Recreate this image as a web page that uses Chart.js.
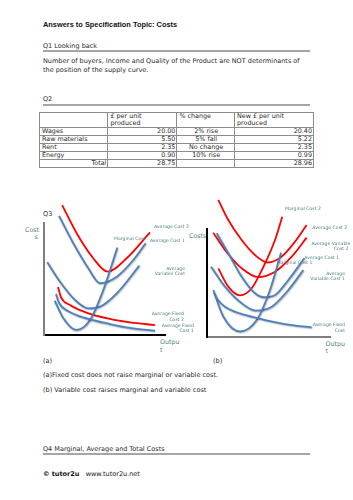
<!DOCTYPE html>
<html>
<head>
<meta charset="utf-8">
<script src="https://cdn.jsdelivr.net/npm/chart.js@4.4.1/dist/chart.umd.min.js"></script>
<style>
  html, body { margin:0; padding:0; background:#fff; }
  body { width:353px; height:500px; position:relative; overflow:hidden; font-family:"DejaVu Sans", sans-serif; color:#2b2b2b; }
  .t { position:absolute; white-space:nowrap; font-size:6.5px; line-height:7.5px; }
  .rule { position:absolute; left:43px; width:267px; height:1.5px; background:#a6a6a6; }
  .lab { position:absolute; white-space:nowrap; font-size:4.6px; line-height:5.4px; color:#4f7f84; }
  .ax { position:absolute; white-space:nowrap; font-size:6.3px; line-height:7.4px; color:#4f7f84; }
  canvas { position:absolute; }
  table { position:absolute; left:39px; top:112px; border-collapse:collapse; font-size:6.4px; table-layout:fixed; color:#2b2b2b; }
  td { border:1px solid #8c8c8c; padding:0 1px 0 2px; line-height:7px; height:6.8px; vertical-align:top; overflow:hidden; white-space:nowrap; }
  td.r { text-align:right; }
  td.c { text-align:center; }
</style>
</head>
<body>
<script>
// ---------- DATA ----------
// Q2 table
const costItems   = ["Wages", "Raw materials", "Rent", "Energy"];
const costPerUnit = ["20.00", "5.50", "2.35", "0.90"];
const pctChange   = ["2% rise", "5% fall", "No change", "10% rise"];
const newCost     = ["20.40", "5.22", "2.35", "0.99"];
const totalOld    = "28.75";
const totalNew    = "28.96";

// Diagram (a): output (x) and cost (y) readings, arbitrary units 0-100
const aAC2x  = [15, 27, 40.7, 52.6, 68.3, 87.6];
const aAC2y  = [116, 90.8, 68.5, 56.5, 68.5, 91.7];
const aAC1x  = [12.4, 24.2, 36.6, 46.3, 60.1, 73.8, 84];
const aAC1y  = [106.3, 81.9, 59.6, 46.2, 52.1, 67, 81.9];
const aAVCx  = [2.7, 13.2, 25.6, 36.6, 46.3, 60.1, 78.8];
const aAVCy  = [64.9, 47.6, 31.3, 23.8, 25.3, 37.2, 61.9];
const aMCx   = [8.8, 16, 26.4, 38, 49, 60.6];
const aMCy   = [30.6, 14.9, 4.5, 13.4, 40.2, 78];
const aAFC2x = [11.6, 14, 21.5, 33.9, 54.5, 71.1, 91.7];
const aAFC2y = [42.9, 33.9, 26.8, 20.5, 14.3, 11.2, 8.9];
const aAFC1x = [9.9, 12.4, 19.8, 33.9, 54.5, 71.1, 91.7];
const aAFC1y = [36.6, 28.6, 21.4, 15.2, 9.8, 6.3, 3.8];

// Diagram (b)
const bAC2x  = [9.2, 17.3, 28.2, 39, 49.5, 60.7, 71.5, 81];
const bAC2y  = [126.9, 108.3, 89.8, 75.9, 69, 74.4, 88.2, 103.7];
const bAVC2x = [5.1, 14.6, 28.2, 41.5, 55.3, 68.9, 81];
const bAVC2y = [96.6, 80.6, 63.6, 55.5, 60.5, 74.4, 92];
const bMC2x  = [9.2, 17.3, 26.8, 36.3, 47.2, 55.3, 61.2];
const bMC2y  = [63.6, 46.6, 38.5, 45.1, 68.2, 89.8, 111.4];
const bAC1x  = [7.9, 17.3, 28.2, 39, 46.5, 55.3, 66.1, 79.1];
const bAC1y  = [96, 77.5, 55.8, 40.5, 36.8, 38.9, 52.8, 72.9];
const bAVC1x = [3.3, 14.6, 28.2, 39.5, 52.6, 66.1, 78.3];
const bAVC1y = [65.1, 46.6, 31.2, 24.5, 28.1, 43.5, 62];
const bMC1x  = [5.1, 13.3, 26.8, 40.4, 51.2, 60.2];
const bMC1y  = [43.5, 18.8, 5.1, 15.7, 43.5, 78.1];
const bAFCx  = [5.7, 8.9, 14.6, 26.8, 41.7, 63.4, 85.1];
const bAFCy  = [40.7, 34.3, 28.1, 21.8, 17.3, 12, 9];
</script>

<div class="t" style="left:43px;top:20.5px;font-family:'Liberation Sans Narrow','Liberation Sans',sans-serif;font-weight:bold;font-size:7.4px;line-height:8px;color:#111;">Answers to Specification Topic: Costs</div>

<div class="t" style="left:43px;top:43px;">Q1 Looking back</div>
<div class="rule" style="top:50px;"></div>
<div class="t" style="left:43px;top:58px;">Number of buyers, Income and Quality of the Product are NOT determinants of</div>
<div class="t" style="left:43px;top:66.8px;">the position of the supply curve.</div>

<div class="t" style="left:43px;top:95.6px;">Q2</div>
<div class="rule" style="top:104.3px;"></div>

<table id="tbl"></table>

<div class="t" style="left:43px;top:211.3px;font-size:6.6px;color:#333;">Q3</div>
<div class="ax" style="left:25px;top:225.5px;">Cost</div>
<div class="ax" style="left:34.5px;top:232.5px;">s</div>
<div class="ax" style="left:160px;top:338px;">Outpu</div>
<div class="ax" style="left:160px;top:345.5px;">t</div>
<div class="t" style="left:43px;top:358px;">(a)</div>

<div class="ax" style="left:189px;top:232.3px;">Costs</div>
<div class="ax" style="left:325.5px;top:339.5px;">Outpu</div>
<div class="ax" style="left:325.5px;top:347px;">t</div>
<div class="t" style="left:213px;top:358px;">(b)</div>

<canvas id="ca" width="140" height="146" style="left:30px;top:196px;width:140px;height:146px;"></canvas>
<canvas id="cb" width="145" height="148" style="left:195px;top:196px;width:145px;height:148px;"></canvas>

<!-- labels diagram (a) -->
<div class="lab" style="left:154px;top:224.3px;">Average Cost 2</div>
<div class="lab" style="left:150px;top:238.3px;">Average Cost 1</div>
<div class="lab" style="left:114px;top:236.3px;">Marginal Cost</div>
<div class="lab" style="left:148px;top:266px;width:37px;text-align:right;">Average<br>Variable Cost</div>
<div class="lab" style="left:144px;top:311.3px;width:40px;text-align:right;">Average Fixed<br>Cost 2</div>
<div class="lab" style="left:158px;top:322.6px;width:36px;text-align:right;">Average Fixed<br>Cost 1</div>

<!-- labels diagram (b) -->
<div class="lab" style="left:285px;top:206.3px;">Marginal Cost 2</div>
<div class="lab" style="left:312.3px;top:225px;">Average Cost 2</div>
<div class="lab" style="left:311.5px;top:240.6px;width:37px;text-align:right;">Average Variable<br>Cost 2</div>
<div class="lab" style="left:304.3px;top:254.6px;">Average Cost 1</div>
<div class="lab" style="left:276.7px;top:260px;">Marginal Cost 1</div>
<div class="lab" style="left:307px;top:270.6px;width:38px;text-align:right;">Average<br>Variable Cost 1</div>
<div class="lab" style="left:311px;top:322.3px;width:34px;text-align:right;">Average Fixed<br>Cost</div>

<div class="t" style="left:43px;top:372.3px;">(a)Fixed cost does not raise marginal or variable cost.</div>
<div class="t" style="left:43px;top:386.8px;">(b) Variable cost raises marginal and variable cost</div>

<div class="t" style="left:43px;top:445.5px;">Q4 Marginal, Average and Total Costs</div>
<div class="rule" style="top:453.3px;"></div>

<div class="t" style="left:43px;top:471px;color:#111;"><b>© tutor2u</b>&nbsp;&nbsp;&nbsp;www.tutor2u.net</div>

<script>
// ---------- TABLE ----------
(function(){
  const tbl = document.getElementById('tbl');
  const widths = [68.4, 69, 57.6, 79];
  let html = '<colgroup>' + widths.map(w => '<col style="width:' + w + 'px">').join('') + '</colgroup>';
  html += '<tr><td style="height:14px"></td><td>£ per unit<br>produced</td><td>% change</td><td>New £ per unit<br>produced</td></tr>';
  costItems.forEach((it, i) => {
    html += '<tr><td>' + it + '</td><td class="r">' + costPerUnit[i] + '</td><td class="c">' + pctChange[i] + '</td><td class="r">' + newCost[i] + '</td></tr>';
  });
  html += '<tr><td class="r">Total</td><td class="r">' + totalOld + '</td><td></td><td class="r">' + totalNew + '</td></tr>';
  tbl.innerHTML = html;
})();

// ---------- CHARTS ----------
const RED = '#ff0000';
const BLUE = '#4f81bd';
function pts(xs, ys) { return xs.map((x, i) => ({x: x, y: ys[i]})); }
function ds(xs, ys, color) {
  return { data: pts(xs, ys), borderColor: color, showLine: true, fill: false,
           cubicInterpolationMode: 'monotone', pointRadius: 0, borderWidth: 1.8, clip: false };
}
const shadowPlugin = {
  id: 'soft',
  beforeDatasetDraw(chart, args) {
    const c = chart.ctx; c.save();
    if (args.meta._dataset.borderColor === BLUE) {
      c.shadowColor = 'rgba(0,0,0,0.35)'; c.shadowBlur = 1.5; c.shadowOffsetX = 0.6; c.shadowOffsetY = 0.8;
    }
  },
  afterDatasetDraw(chart) { chart.ctx.restore(); }
};
function makeChart(id, datasets, pad, xBorder, yBorder) {
  return new Chart(document.getElementById(id), {
    type: 'scatter',
    data: { datasets: datasets },
    plugins: [shadowPlugin],
    options: {
      responsive: false, animation: false, devicePixelRatio: 1,
      layout: { padding: pad },
      plugins: { legend: { display: false }, tooltip: { enabled: false } },
      scales: {
        x: { type: 'linear', min: 0, max: 100,
             grid: { display: false, drawTicks: false, tickLength: 0 },
             ticks: { display: false }, border: { display: true, color: xBorder, width: 2 } },
        y: { type: 'linear', min: 0, max: 100,
             grid: { display: false, drawTicks: false, tickLength: 0 },
             ticks: { display: false }, border: { display: true, color: yBorder, width: 2 } }
      }
    }
  });
}
makeChart('ca', [
  ds(aAFC1x, aAFC1y, BLUE),
  ds(aMCx, aMCy, BLUE),
  ds(aAVCx, aAVCy, BLUE),
  ds(aAC1x, aAC1y, BLUE),
  ds(aAFC2x, aAFC2y, RED),
  ds(aAC2x, aAC2y, RED)
], {left: 14, right: 5, top: 27, bottom: 7}, '#000000', '#7f7f7f');

makeChart('cb', [
  ds(bAFCx, bAFCy, BLUE),
  ds(bMC1x, bMC1y, BLUE),
  ds(bAVC1x, bAVC1y, BLUE),
  ds(bAC1x, bAC1y, BLUE),
  ds(bMC2x, bMC2y, RED),
  ds(bAVC2x, bAVC2y, RED),
  ds(bAC2x, bAC2y, RED)
], {left: 12, right: 10, top: 33, bottom: 7}, '#7f7f7f', '#000000');
</script>
</body>
</html>
